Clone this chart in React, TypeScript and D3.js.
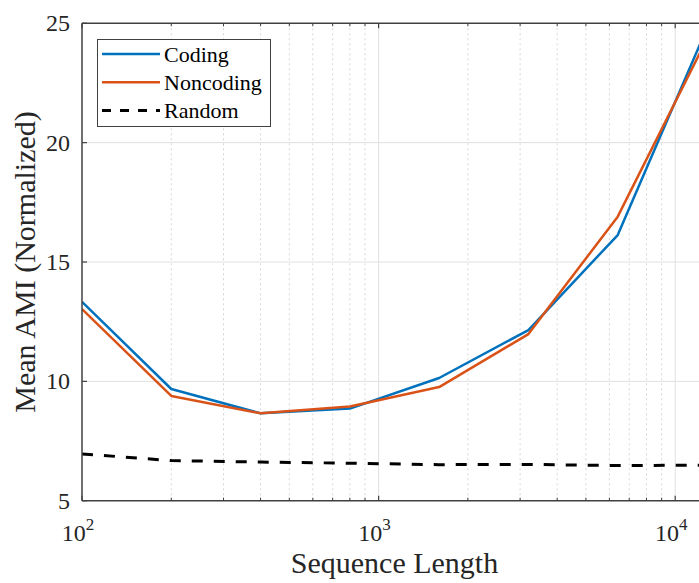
import React from "react";
import * as d3 from "d3";

const lengths = [100, 200, 400, 800, 1600, 3200, 6400, 12800];
const coding = [13.33, 9.68, 8.66, 8.86, 10.14, 12.15, 16.13, 24.8];
const noncoding = [13.03, 9.39, 8.66, 8.95, 9.76, 11.98, 16.9, 24.35];
const random = [6.96, 6.68, 6.62, 6.57, 6.51, 6.52, 6.47, 6.49];
const yTicks = [5, 10, 15, 20, 25];
const xMajor = [100, 1000, 10000];
const xMajorExp = ["2", "3", "4"];
const seriesNames = ["Coding", "Noncoding", "Random"];

const W = 699;
const H = 583;
const FONT = "'Liberation Serif', 'Times New Roman', serif";
const AX = "#404040";

export default function App() {
  const x = d3.scaleLog().domain([100, 12800]).range([82, 707]);
  const y = d3.scaleLinear().domain([5, 25]).range([500.7, 23.3]);
  const [x0, x1] = x.range();
  const [yb, yt] = y.range();

  const minor: number[] = [];
  for (const dec of [100, 1000, 10000]) {
    for (let k = 2; k <= 9; k++) {
      const v = dec * k;
      if (v < 12800) minor.push(v);
    }
  }

  const line = d3
    .line<number>()
    .x((_, i) => x(lengths[i]))
    .y((d) => y(d));

  const series = [
    { name: seriesNames[0], data: coding, color: "#0072BD", width: 2.5, dash: undefined },
    { name: seriesNames[1], data: noncoding, color: "#D95319", width: 2.5, dash: undefined },
    { name: seriesNames[2], data: random, color: "#000000", width: 3, dash: "11,11" },
  ];

  return (
    <svg
      width={W}
      height={H}
      style={{ position: "absolute", left: 0, top: 0, background: "#fff" }}
      fontFamily={FONT}
    >
      <defs>
        <clipPath id="plot">
          <rect x={x0} y={yt} width={x1 - x0} height={yb - yt} />
        </clipPath>
      </defs>
      <rect x={0} y={0} width={W} height={H} fill="#fff" />
      {/* grid */}
      {minor.map((v) => (
        <line
          key={"mg" + v}
          x1={x(v)}
          x2={x(v)}
          y1={yt}
          y2={yb}
          stroke="#d6d6d6"
          strokeWidth={1}
          strokeDasharray="2,3"
        />
      ))}
      {xMajor.slice(1).map((v) => (
        <line key={"xg" + v} x1={x(v)} x2={x(v)} y1={yt} y2={yb} stroke="#e0e0e0" strokeWidth={1} />
      ))}
      {yTicks.slice(1, -1).map((v) => (
        <line key={"yg" + v} x1={x0} x2={x1} y1={y(v)} y2={y(v)} stroke="#e0e0e0" strokeWidth={1} />
      ))}
      {/* series */}
      <g clipPath="url(#plot)">
        {series.map((s) => (
          <path
            key={s.name}
            d={line(s.data) || ""}
            fill="none"
            stroke={s.color}
            strokeWidth={s.width}
            strokeDasharray={s.dash}
            strokeLinejoin="round"
          />
        ))}
      </g>
      {/* axes */}
      <line x1={x0} x2={x1} y1={yb} y2={yb} stroke={AX} strokeWidth={1.5} />
      <line x1={x0} x2={x1} y1={yt} y2={yt} stroke={AX} strokeWidth={1.5} />
      <line x1={x0} x2={x0} y1={yt} y2={yb} stroke={AX} strokeWidth={1.5} />
      {/* x ticks */}
      {minor.map((v) => (
        <g key={"mt" + v}>
          <line x1={x(v)} x2={x(v)} y1={yb} y2={yb - 3} stroke={AX} strokeWidth={1} />
          <line x1={x(v)} x2={x(v)} y1={yt} y2={yt + 3} stroke={AX} strokeWidth={1} />
        </g>
      ))}
      {xMajor.map((v, i) => (
        <g key={"xt" + v}>
          <line x1={x(v)} x2={x(v)} y1={yb} y2={yb - 5} stroke={AX} strokeWidth={1.2} />
          <line x1={x(v)} x2={x(v)} y1={yt} y2={yt + 5} stroke={AX} strokeWidth={1.2} />
          <text x={x(v) - 4} y={541} textAnchor="middle" fontSize={24} fill="#262626">
            10
            <tspan dy={-11} fontSize={17}>
              {xMajorExp[i]}
            </tspan>
          </text>
        </g>
      ))}
      {/* y ticks */}
      {yTicks.map((v) => (
        <g key={"yt" + v}>
          <line x1={x0} x2={x0 + 5} y1={y(v)} y2={y(v)} stroke={AX} strokeWidth={1.2} />
          <text
            x={70}
            y={y(v)}
            textAnchor="end"
            dominantBaseline="central"
            fontSize={24}
            fill="#262626"
          >
            {v}
          </text>
        </g>
      ))}
      {/* labels */}
      <text x={(x0 + x1) / 2} y={573} textAnchor="middle" fontSize={30} fill="#262626">
        Sequence Length
      </text>
      <text
        transform={`translate(35, ${(yt + yb) / 2}) rotate(-90)`}
        textAnchor="middle"
        fontSize={30}
        fill="#262626"
      >
        Mean AMI (Normalized)
      </text>
      {/* legend */}
      <g>
        <rect x={97.5} y={39.5} width={173} height={87} fill="#fff" stroke={AX} strokeWidth={1} />
        {series.map((s, i) => {
          const ly = 54 + i * 28.2;
          return (
            <g key={"lg" + s.name}>
              <line
                x1={102}
                x2={160}
                y1={ly}
                y2={ly}
                stroke={s.color}
                strokeWidth={s.width}
                strokeDasharray={s.dash ? "9,9" : undefined}
              />
              <text x={164} y={ly} dominantBaseline="central" fontSize={22} fill="#000">
                {s.name}
              </text>
            </g>
          );
        })}
      </g>
    </svg>
  );
}
